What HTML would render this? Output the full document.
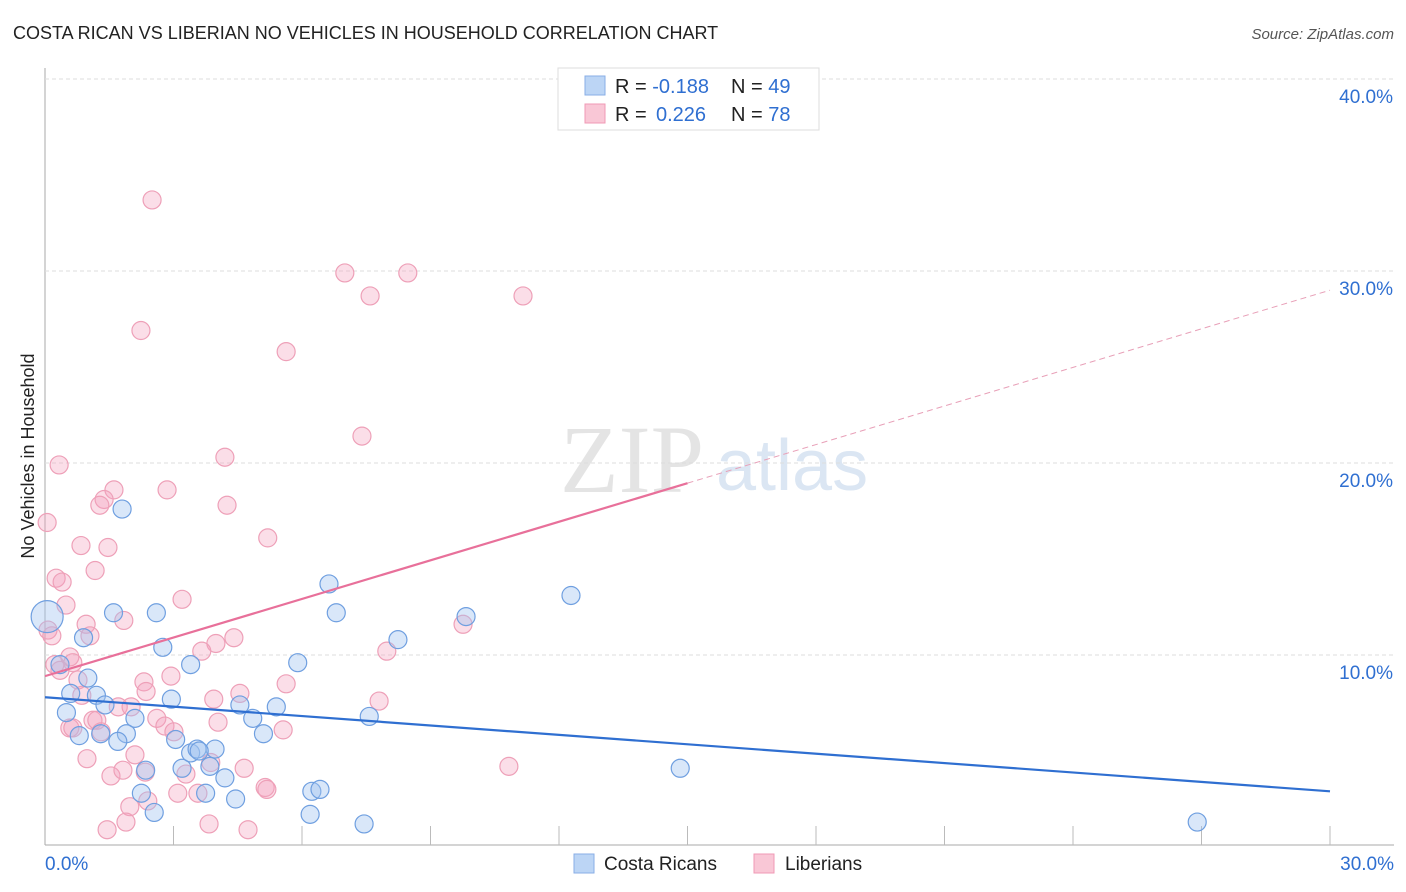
<!DOCTYPE html>
<html><head><meta charset="utf-8"><style>
body{margin:0;background:#fff;font-family:"Liberation Sans",sans-serif;}
svg{display:block}
</style></head><body>
<svg id="chart" width="1406" height="892">
<text x="13" y="39" font-size="18" fill="#222">COSTA RICAN VS LIBERIAN NO VEHICLES IN HOUSEHOLD CORRELATION CHART</text>
<text x="1394" y="39" font-size="15" fill="#555" font-style="italic" text-anchor="end">Source: ZipAtlas.com</text>
<text x="560" y="492" font-size="96" fill="#e4e4e4" font-family="Liberation Serif,serif">ZIP</text>
<text x="716" y="490" font-size="72" fill="#dbe6f3">atlas</text>
<text transform="translate(34,456) rotate(-90)" font-size="18" fill="#222" text-anchor="middle">No Vehicles in Household</text>
<g id="grid"></g><g id="pts"></g><g id="lines"></g>
<g>
<rect x="558" y="68" width="261" height="62" fill="#fff" stroke="#ddd"/>
<rect x="585" y="76" width="20" height="19" fill="#bcd5f5" stroke="#88aee6"/>
<rect x="585" y="104" width="20" height="19" fill="#f9c7d6" stroke="#f09ab5"/>
<text x="615" y="93" font-size="20" fill="#222">R = <tspan fill="#2f6fd1">-0.188</tspan><tspan x="731">N = </tspan><tspan fill="#2f6fd1">49</tspan></text>
<text x="615" y="121" font-size="20" fill="#222">R = <tspan x="656" fill="#2f6fd1">0.226</tspan><tspan x="731">N = </tspan><tspan fill="#2f6fd1">78</tspan></text>
</g>
<g>
<rect x="574" y="854" width="20" height="19" fill="#bcd5f5" stroke="#88aee6"/>
<text x="604" y="870" font-size="19" fill="#222">Costa Ricans</text>
<rect x="754" y="854" width="20" height="19" fill="#f9c7d6" stroke="#f09ab5"/>
<text x="785" y="870" font-size="19" fill="#222">Liberians</text>
</g>
</svg>
<script>
const xTicks=[0,3,6,9,12,15,18,21,24,27,30];
const yTicks=[10,20,30,40];
const blueX=[0.05,0.35,1.0,0.6,1.2,0.5,0.8,1.4,0.9,1.6,1.8,2.6,2.75,3.4,2.1,1.9,1.7,1.3,2.95,3.05,2.35,2.25,2.55,3.2,3.4,3.55,3.97,3.85,3.75,4.2,4.45,4.55,4.85,5.1,5.4,5.9,6.63,6.8,6.23,6.42,6.19,7.45,7.57,8.24,9.83,12.28,14.83,26.9,3.6];
const blueY=[12.0,9.5,8.8,8.0,7.9,7.0,5.8,7.4,10.9,12.2,17.6,12.2,10.4,9.5,6.7,5.9,5.5,5.9,7.7,5.6,4.0,2.8,1.8,4.1,4.9,5.1,5.1,4.2,2.8,3.6,2.5,7.4,6.7,5.9,7.3,9.6,13.7,12.2,2.9,3.0,1.7,1.2,6.8,10.8,12.0,13.1,4.1,1.3,5.0];
const pinkX=[0.05,0.33,2.5,2.24,5.63,7.0,8.47,7.59,11.16,7.4,4.2,2.85,1.61,1.38,1.28,4.25,5.2,0.84,1.47,1.17,0.26,0.4,0.49,3.2,1.84,0.96,1.05,0.07,0.16,0.58,0.23,0.65,0.35,0.77,0.86,4.41,3.99,3.66,7.98,9.76,2.94,2.31,2.36,4.55,3.94,5.63,7.8,1.71,2.01,1.12,1.21,0.58,2.61,2.8,3.01,4.04,5.56,1.31,2.1,0.98,3.29,4.65,1.54,1.82,2.34,3.87,3.1,3.57,5.14,5.18,1.98,2.4,1.89,3.83,4.74,1.45,10.83,0.65];
const pinkY=[16.9,19.9,33.7,26.9,25.8,29.9,29.9,28.7,28.7,21.4,20.3,18.6,18.6,18.1,17.8,17.8,16.1,15.7,15.6,14.4,14.0,13.8,12.6,12.9,11.8,11.6,11.0,11.3,11.0,9.9,9.5,9.6,9.2,8.7,7.9,10.9,10.6,10.2,10.2,11.6,8.9,8.6,8.1,8.0,7.7,8.5,7.6,7.3,7.3,6.6,6.6,6.2,6.7,6.3,6.0,6.5,6.1,6.0,4.8,4.6,3.8,4.1,3.7,4.0,3.9,4.4,2.8,2.8,3.1,3.0,2.1,2.4,1.3,1.2,0.9,0.9,4.2,6.2];
const blueSize=[16,9,9,9,9,9,9,9,9,9,9,9,9,9,9,9,9,9,9,9,9,9,9,9,9,9,9,9,9,9,9,9,9,9,9,9,9,9,9,9,9,9,9,9,9,9,9,9,9];
const blueFit=[7.8,2.9];const pinkFit=[8.9,29.0];
const X0=45,X1=1330,Y0=847,YS=19.2;
const sx=v=>X0+(v/30)*(X1-X0), sy=v=>Y0-v*YS;
const NS='http://www.w3.org/2000/svg';
function mk(t,a,p){const e=document.createElementNS(NS,t);for(const k in a)e.setAttribute(k,a[k]);p.appendChild(e);return e;}
const grid=document.getElementById('grid');
mk('line',{x1:45,y1:68,x2:45,y2:845,stroke:'#aaa'},grid);
mk('line',{x1:45,y1:845,x2:1394,y2:845,stroke:'#aaa'},grid);
yTicks.forEach(t=>{
 const g=mk('line',{x1:45,y1:sy(t),x2:1394,y2:sy(t),stroke:'#ddd','stroke-dasharray':'4,3'},grid);
 
 
 const l=mk('text',{x:1393,y:sy(t)+24,'font-size':19,fill:'#2f6fd1','text-anchor':'end'},grid);
 l.textContent=t.toFixed(1)+'%';
 
 
});
xTicks.forEach(t=>{
 if(t>0){const k=mk('line',{x1:sx(t),y1:826,x2:sx(t),y2:845,stroke:'#bbb'},grid);
 
 }
});
[[0,'start',45],[30,'end',1394]].forEach(([t,a,x])=>{
 const l=mk('text',{x:x,y:870,'font-size':19,fill:'#2f6fd1','text-anchor':a},grid);
 l.textContent=t.toFixed(1)+'%';
 
 
});
const pts=document.getElementById('pts');
pinkX.forEach((x,i)=>{
 const c=mk('circle',{cx:sx(x),cy:sy(pinkY[i]),r:9,fill:'rgba(244,160,188,0.35)',stroke:'#eea0b8','stroke-width':1.2},pts);
 
 
});
blueX.forEach((x,i)=>{
 const c=mk('circle',{cx:sx(x),cy:sy(blueY[i]),r:blueSize[i],fill:'rgba(160,195,240,0.4)',stroke:'#6f9fe0','stroke-width':1.2},pts);
 
 
});
const lines=document.getElementById('lines');
const bl=mk('line',{x1:sx(0),y1:sy(blueFit[0]),x2:sx(30),y2:sy(blueFit[1]),stroke:'#2f6fd1','stroke-width':2.2},lines);


const pm=(pinkFit[0]+pinkFit[1])/2;
const pl=mk('line',{x1:sx(0),y1:sy(pinkFit[0]),x2:sx(15),y2:sy(pm),stroke:'#e8709a','stroke-width':2.2},lines);


const pd=mk('line',{x1:sx(15),y1:sy(pm),x2:sx(30),y2:sy(pinkFit[1]),stroke:'#e8a0b8','stroke-width':1,'stroke-dasharray':'6,4'},lines);


</script>
</body></html>
